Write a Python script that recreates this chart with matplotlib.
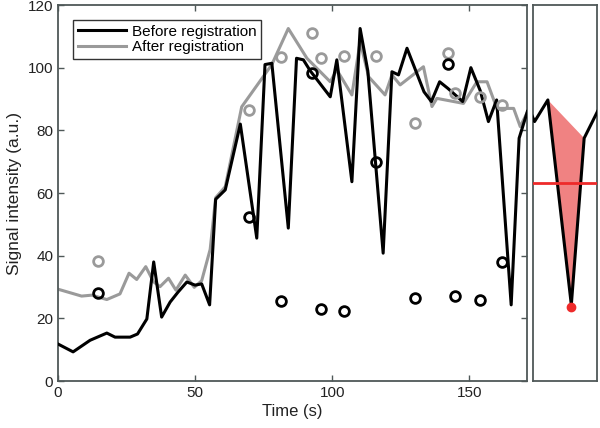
import numpy as np
import matplotlib.pyplot as plt

plt.rcParams['font.family'] = ['Liberation Sans', 'DejaVu Sans']

# Signal before registration (black)
before_t = [0, 5.5, 11.7, 17.8, 20.8, 26.3, 29, 32.4, 34.9, 37.8, 40.9, 43.8, 47, 50,
            52.4, 55.3, 57.5, 61, 66.5, 72.5, 75.5, 78, 84, 87, 89.5, 92, 99.3, 101.7,
            107.2, 110.2, 113, 118.6, 121.8, 124.2, 127.3, 133.5, 136.2, 139.2, 142.2,
            147.6, 150.6, 154, 157, 160, 165.3, 168.2, 171.2]
before_v = [11.8, 9.3, 13, 15.3, 14, 14, 15, 19.8, 38, 20.4, 25.2, 28.4, 31.6, 30.6,
            31, 24.3, 58, 61, 82, 45.6, 101, 101.4, 48.8, 103, 102.5, 99, 90.7, 102.5,
            63.6, 112.5, 99, 40.8, 98.7, 97.7, 106.2, 92.3, 89.2, 95.5, 93.4,
            89.2, 100, 92.7, 82.8, 89.7, 24.3, 77.5, 86]

# Signal after registration (grey)
after_t = [0, 8.6, 12.3, 17.8, 22.6, 25.9, 28.7, 32, 34.8, 37.2, 40.3, 43, 46.4, 49.7,
           52.4, 55.5, 57.5, 61, 67, 78, 84, 90.8, 99.3, 101.7, 107.2, 110.2, 113.3,
           119.3, 121.8, 124.8, 133.3, 136.4, 138.2, 147.9, 152.8, 156.5, 160.1, 166.2,
           168.6, 171]
after_v = [29.3, 27.1, 27.4, 26, 27.8, 34.4, 32.4, 36.5, 31.7, 30.1, 32.8, 29, 33.8, 29.9,
           32, 42, 58.5, 62, 87.5, 101, 112.5, 103, 95.5, 99.3, 91.3, 108.3, 97.1,
           91.3, 97.7, 94.5, 100.3, 87.6, 90.2, 88.6, 95.5, 95.5, 87, 87,
           81.2, 85.4]

# Circle markers
circle_t = [14.5, 69.8, 81.4, 92.8, 95.8, 104.4, 116, 130.3, 142.3, 144.9, 153.8, 162]
circle_after = [38.4, 86.5, 103.3, 111, 103, 103.7, 103.7, 82.4, 104.6, 91.8, 90.7, 88.1]
circle_before = [28, 52.2, 25.5, 98.2, 22.9, 22.4, 69.8, 26.6, 101.2, 27.2, 25.9, 38.1]

# Zoom panel
zoom_xlim = (156.6, 171.1)
fill_start, fill_end = 160, 168.2
threshold = 63.3

black = '#000000'
grey = '#9a9a9a'
spine_col = '#4f5858'

fig = plt.figure(figsize=(6, 4.28), dpi=100)
ax = fig.add_axes([0.0967, 0.1098, 0.7813, 0.8785])
ax2 = fig.add_axes([0.888, 0.1098, 0.107, 0.8785])

ax.plot(before_t, before_v, color=black, lw=2.2, label='Before registration', zorder=3)
ax.plot(after_t, after_v, color=grey, lw=2.2, label='After registration', zorder=2)
ax.plot(circle_t, circle_after, 'o', mfc='none', mec=grey, ms=7, mew=2, zorder=4)
ax.plot(circle_t, circle_before, 'o', mfc='none', mec=black, ms=7, mew=2, zorder=4)

ax.set_xlim(0, 171)
ax.set_ylim(0, 120)
ax.set_xticks([0, 50, 100, 150])
ax.set_yticks(np.arange(0, 121, 20))
ax.tick_params(direction='in', length=4, width=1, colors=spine_col, labelcolor='#222222',
               labelsize=11, top=True, right=True)
ax.set_xlabel('Time (s)', fontsize=12, color='#222222', labelpad=3)
ax.set_ylabel('Signal intensity (a.u.)', fontsize=12.5, color='#222222', labelpad=4)
leg = ax.legend(loc='upper left', bbox_to_anchor=(0.032, 0.96), borderaxespad=0,
                fontsize=11, handlelength=3.2, handletextpad=0.35, labelspacing=0.12,
                borderpad=0.3, fancybox=False, framealpha=1, edgecolor='#333333')
leg.get_frame().set_linewidth(1)

# zoomed panel of the dip
bt = np.array(before_t)
bv = np.array(before_v)
sel = (bt >= fill_start) & (bt <= fill_end)
ax2.fill(bt[sel], bv[sel], color='#f08282', lw=0, zorder=1)
ax2.plot(bt, bv, color=black, lw=2.2, zorder=3)
ax2.axhline(threshold, color='#ee2a2a', lw=2, zorder=4)
imin = np.argmin(bv[sel])
ax2.plot(bt[sel][imin], bv[sel][imin] - 0.8, 'o', color='#ee2a2a', ms=6, zorder=5)
ax2.set_xlim(*zoom_xlim)
ax2.set_ylim(0, 120)
ax2.set_xticks([])
ax2.set_yticks([])

for a in (ax, ax2):
    for s in a.spines.values():
        s.set_color(spine_col)
        s.set_linewidth(1.3)

fig.savefig('out.png', dpi=100)
